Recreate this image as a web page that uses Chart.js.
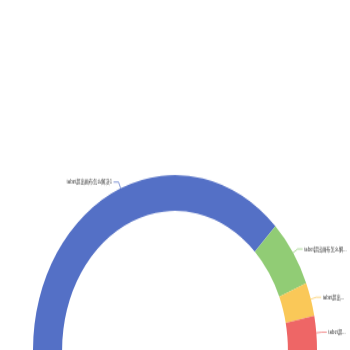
<!DOCTYPE html>
<html>
<head>
<meta charset="utf-8">
<script src="https://cdn.jsdelivr.net/npm/chart.js@4/dist/chart.umd.min.js"></script>
<style>
  html, body { margin: 0; padding: 0; background: #fff; }
  #outer { width: 350px; height: 350px; overflow: hidden; position: relative; }
  #wrap { position: absolute; left: 0; top: 0; width: 350px; height: 284px; transform: scaleY(1.2324); transform-origin: 0 0; }
</style>
</head>
<body>
<div id="outer"><div id="wrap"><canvas id="c"></canvas></div></div>
<script>
const categories = ['label超出画布怎么解决1', 'label超出画布怎么解决2', 'label超出画布怎么解决3', 'label超出画布怎么解决4'];
const values = [1200, 200, 100, 100];
const colors = ['#5470c6', '#91cc75', '#fac858', '#ee6666'];

const labelPlugin = {
  id: 'outLabels',
  afterDatasetsDraw(chart) {
    const ctx = chart.ctx;
    const meta = chart.getDatasetMeta(0);
    const W = chart.width;
    const L1 = 5.5, L2 = 5, gap = 1.5;
    ctx.save();
    ctx.font = '4.2px "Noto Sans CJK SC", sans-serif';
    ctx.textBaseline = 'middle';
    meta.data.forEach((arc, i) => {
      const p = arc.getProps(['x', 'y', 'startAngle', 'endAngle', 'outerRadius'], true);
      const mid = (p.startAngle + p.endAngle) / 2;
      const c = Math.cos(mid), s = Math.sin(mid);
      const x0 = p.x + c * p.outerRadius, y0 = p.y + s * p.outerRadius;
      const x1 = x0 + c * L1, y1 = y0 + s * L1;
      const dir = c >= 0 ? 1 : -1;
      const x2 = x1 + dir * L2;
      ctx.strokeStyle = colors[i];
      ctx.lineWidth = 0.7;
      ctx.beginPath();
      ctx.moveTo(x0, y0);
      ctx.lineTo(x1, y1);
      ctx.lineTo(x2, y1);
      ctx.stroke();
      const tx = x2 + dir * gap;
      ctx.textAlign = dir > 0 ? 'left' : 'right';
      ctx.fillStyle = '#333';
      let txt = categories[i];
      const avail = dir > 0 ? W - tx - 2 : tx - 2;
      if (ctx.measureText(txt).width > avail) {
        while (txt.length && ctx.measureText(txt + '...').width > avail) txt = txt.slice(0, -1);
        txt += '...';
      }
      ctx.fillText(txt, tx, y1);
    });
    ctx.restore();
  }
};

new Chart(document.getElementById('c'), {
  type: 'doughnut',
  data: {
    labels: categories,
    datasets: [{
      data: values,
      backgroundColor: colors,
      borderWidth: 0,
      hoverOffset: 0
    }]
  },
  options: {
    responsive: true,
    maintainAspectRatio: false,
    animation: false,
    rotation: -90,
    circumference: 180,
    cutout: '79.5%',
    layout: { padding: { left: 33, right: 33, top: 142, bottom: 0 } },
    plugins: {
      legend: { display: false },
      tooltip: { enabled: false }
    },
    events: []
  },
  plugins: [labelPlugin]
});
</script>
</body>
</html>
